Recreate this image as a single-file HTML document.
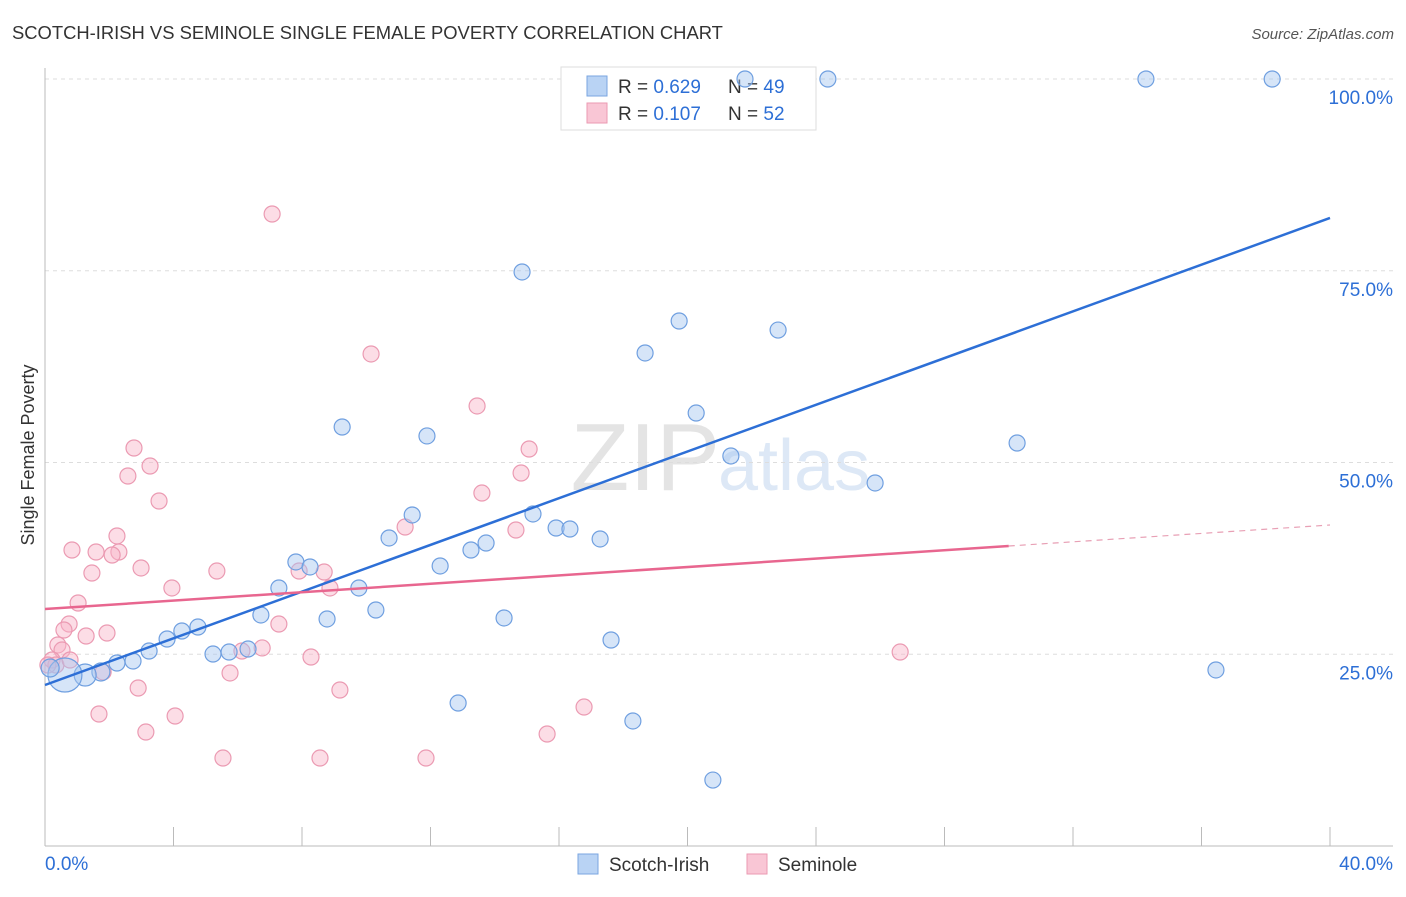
<!DOCTYPE html>
<html><head><meta charset="utf-8"><style>
body{margin:0;background:#fff;font-family:"Liberation Sans",sans-serif}
svg text{font-family:"Liberation Sans",sans-serif}
</style></head><body>
<svg id="c" width="1406" height="892">
<text x="12" y="39" font-size="18.4" fill="#333">SCOTCH-IRISH VS SEMINOLE SINGLE FEMALE POVERTY CORRELATION CHART</text>
<text x="1394" y="39" font-size="15" fill="#555" text-anchor="end" font-style="italic">Source: ZipAtlas.com</text>
<text x="720" y="490" font-size="96" fill="#e4e4e4" text-anchor="end" font-family="Liberation Serif">ZIP</text>
<text x="718" y="490" font-size="72" fill="#dde8f6">atlas</text>
<text transform="translate(34,455) rotate(-90)" font-size="18" fill="#333" text-anchor="middle">Single Female Poverty</text>
<g id="grid"></g><g id="ticks"></g>
<g>
<rect x="561" y="67" width="255" height="63" fill="#fff" stroke="#ddd"/>
<rect x="587" y="76" width="20" height="20" fill="#b9d3f4" stroke="#7aa6e0"/>
<rect x="587" y="103" width="20" height="20" fill="#f9c6d5" stroke="#eb9ab2"/>
<text x="618" y="93" font-size="19" fill="#333">R = <tspan fill="#2d6fd6">0.629</tspan></text>
<text x="728" y="93" font-size="19" fill="#333">N = <tspan fill="#2d6fd6">49</tspan></text>
<text x="618" y="120" font-size="19" fill="#333">R = <tspan fill="#2d6fd6"> 0.107</tspan></text>
<text x="728" y="120" font-size="19" fill="#333">N = <tspan fill="#2d6fd6">52</tspan></text>
</g>
<g id="pts"></g><g id="trend"></g>
<g>
<rect x="578" y="854" width="20" height="20" fill="#b9d3f4" stroke="#7aa6e0"/>
<text x="609" y="871" font-size="19" fill="#333">Scotch-Irish</text>
<rect x="747" y="854" width="20" height="20" fill="#f9c6d5" stroke="#eb9ab2"/>
<text x="778" y="871" font-size="19" fill="#333">Seminole</text>
</g>
</svg>
<script>
const yTicks=[25,50,75,100];
const yTickLabels=["25.0%","50.0%","75.0%","100.0%"];
const xTicks=[0,4,8,12,16,20,24,28,32,36,40];
const blueX=[21.79,24.37,34.27,38.20,14.85,19.74,22.82,18.68,20.27,9.25,11.89,30.26,21.35,25.84,11.43,15.19,15.91,16.34,10.71,17.28,13.73,13.26,7.81,8.25,12.30,7.28,9.77,10.30,6.72,8.78,14.29,4.76,4.26,3.80,17.62,3.24,6.32,5.73,5.23,2.74,2.24,1.74,1.25,0.62,36.45,12.86,18.30,20.79,0.16];
const blueY=[100,100,100,100,74.84,68.45,67.27,64.28,56.45,54.63,53.46,52.54,50.85,47.33,43.16,43.29,41.46,41.33,40.16,40.03,39.50,38.59,37.03,36.38,36.51,33.64,33.64,30.77,30.12,29.60,29.73,28.55,28.03,26.99,26.86,25.42,25.68,25.29,25.03,24.12,23.86,22.69,22.29,22.29,22.95,18.64,16.30,8.60,23.21];
const blueR=[8,8,8,8,8,8,8,8,8,8,8,8,8,8,8,8,8,8,8,8,8,8,8,8,8,8,8,8,8,8,8,8,8,8,8,8,8,8,8,8,8,9,11,17,8,8,8,8,9];
const pinkX=[7.07,10.15,13.45,2.77,15.07,3.27,2.58,14.82,3.55,13.60,2.24,11.21,14.66,0.84,1.59,2.30,2.09,2.99,5.35,7.91,8.69,1.46,3.95,8.87,1.03,0.75,7.28,0.59,1.93,1.28,0.40,0.53,6.76,6.13,8.28,0.22,0.34,26.62,1.81,2.90,9.18,5.76,1.68,4.05,16.78,3.14,15.63,5.54,8.56,11.86,0.09,0.78];
const pinkY=[82.40,64.15,57.37,51.89,51.76,49.54,48.24,48.63,44.98,46.02,40.42,41.59,41.20,38.59,38.33,38.33,37.94,36.25,35.85,35.85,35.72,35.59,33.64,33.64,31.68,28.94,28.94,28.16,27.77,27.38,26.21,25.55,25.82,25.42,24.64,24.25,23.60,25.29,22.69,20.60,20.34,22.56,17.21,16.95,18.12,14.86,14.60,11.47,11.47,11.47,23.60,24.25];
const blueTrend=[20.99,81.88];
const pinkTrend=[30.90,41.85];
const pinkSolidEnd=30.0;
const NS="http://www.w3.org/2000/svg";
const sx=v=>45+v/40*1285, sy=v=>846-v/100*767;
function mk(t,a,p){const e=document.createElementNS(NS,t);for(const k in a)e.setAttribute(k,a[k]);document.getElementById(p).appendChild(e);return e;}
yTicks.forEach((t,i)=>{
 const l=mk('line',{x1:45,x2:1393,y1:sy(t),y2:sy(t),stroke:'#ddd','stroke-dasharray':'4,4'},'grid');
 
 
 const tx=mk('text',{x:1393,y:sy(t)+25,'font-size':19,fill:'#2d6fd6','text-anchor':'end'},'ticks');tx.textContent=yTickLabels[i];
 
 
});
const ax=mk('line',{x1:45,x2:45,y1:68,y2:846,stroke:'#bbb'},'grid');


const bx=mk('line',{x1:45,x2:1393,y1:846,y2:846,stroke:'#bbb'},'grid');


xTicks.forEach(t=>{const l=mk('line',{x1:sx(t),x2:sx(t),y1:827,y2:846,stroke:'#bbb'},'grid');
 
 });
const xl0=mk('text',{x:45,y:870,'font-size':19,fill:'#2d6fd6'},'ticks');xl0.textContent='0.0%';


const xl1=mk('text',{x:1393,y:870,'font-size':19,fill:'#2d6fd6','text-anchor':'end'},'ticks');xl1.textContent='40.0%';


pinkX.forEach((x,i)=>{const c=mk('circle',{cx:sx(x),cy:sy(pinkY[i]),r:8,fill:'rgba(248,180,200,0.45)',stroke:'#eb9ab2','stroke-width':1.2},'pts');
 
 });
blueX.forEach((x,i)=>{const c=mk('circle',{cx:sx(x),cy:sy(blueY[i]),r:blueR[i],fill:'rgba(165,198,240,0.45)',stroke:'#6f9fe0','stroke-width':1.2},'pts');
 
 });
const bt=mk('line',{x1:sx(0),y1:sy(blueTrend[0]),x2:sx(40),y2:sy(blueTrend[1]),stroke:'#2d6fd6','stroke-width':2.5},'trend');


const pAt=x=>pinkTrend[0]+(pinkTrend[1]-pinkTrend[0])*x/40;
const pt=mk('line',{x1:sx(0),y1:sy(pAt(0)),x2:sx(pinkSolidEnd),y2:sy(pAt(pinkSolidEnd)),stroke:'#e8668f','stroke-width':2.5},'trend');


const pd=mk('line',{x1:sx(pinkSolidEnd),y1:sy(pAt(pinkSolidEnd)),x2:sx(40),y2:sy(pAt(40)),stroke:'#e8a0b5','stroke-width':1.2,'stroke-dasharray':'6,5'},'trend');


</script>
</body></html>
